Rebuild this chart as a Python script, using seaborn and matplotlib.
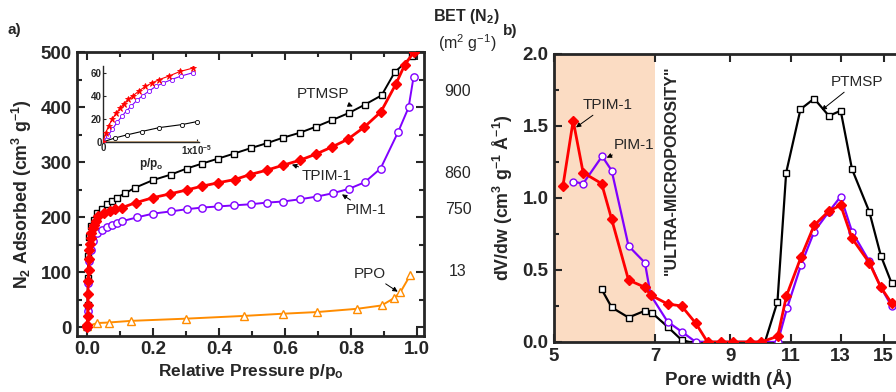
import numpy as np
import pandas as pd
import seaborn as sns
import matplotlib
matplotlib.use("Agg")
import matplotlib.pyplot as plt
from matplotlib.ticker import MultipleLocator, FixedLocator, NullLocator, NullFormatter, FixedFormatter

# ---------------- data: panel a (isotherms) ----------------
ptmsp_p = [0.0, 0.001, 0.002, 0.003, 0.006, 0.012, 0.02, 0.03, 0.045, 0.06, 0.075, 0.09, 0.115, 0.145, 0.2,
           0.254, 0.302, 0.349, 0.397, 0.445, 0.496, 0.545, 0.594, 0.645, 0.694, 0.743, 0.794,
           0.842, 0.893, 0.933, 0.985]
ptmsp_v = [0, 40, 90, 130, 165, 185, 196, 209, 216, 224, 230, 236, 244, 254, 268,
           278, 289, 298, 307, 316, 326, 335, 345, 354, 365, 377, 390,
           405, 422, 464, 493]

tpim_p = [0.0, 0.0005, 0.001, 0.0015, 0.002, 0.003, 0.004, 0.005, 0.006, 0.008, 0.010, 0.013, 0.017, 0.021,
          0.026, 0.033, 0.05, 0.07, 0.085, 0.106, 0.148, 0.2, 0.252, 0.302, 0.349, 0.397, 0.448,
          0.494, 0.545, 0.594, 0.645, 0.693, 0.742, 0.79, 0.84, 0.891, 0.936, 0.963, 0.99]
tpim_v = [0, 5, 20, 40, 60, 85, 105, 125, 140, 152, 162, 172, 180, 187,
          194, 202, 209, 212, 215, 218, 227, 236, 243, 250, 257, 263, 269,
          278, 286, 295, 304, 315, 328, 342, 364, 392, 442, 477, 500]

pim_p = [0.0, 0.001, 0.003, 0.006, 0.01, 0.018, 0.03, 0.045, 0.06, 0.075, 0.09, 0.105, 0.15, 0.2, 0.254,
         0.302, 0.349, 0.397, 0.445, 0.496, 0.545, 0.594, 0.645, 0.697, 0.745, 0.794, 0.842,
         0.89, 0.943, 0.975, 0.99]
pim_v = [0, 30, 80, 120, 140, 157, 172, 178, 182, 186, 190, 193, 200, 207, 211,
         215, 218, 220, 222, 224, 227, 229, 233, 238, 244, 252, 264,
         289, 355, 400, 455]

ppo_p = [0.0, 0.03, 0.065, 0.133, 0.3, 0.476, 0.594, 0.697, 0.82, 0.893, 0.93, 0.95, 0.98]
ppo_v = [2, 8, 9, 12, 16, 21, 25, 28, 34, 40, 53, 64, 95]

# inset (low pressure, p/po in units of 1e-6)
ins_tpim_p = [0.0, 0.3, 0.6, 1.0, 1.4, 1.8, 2.2, 2.7, 3.2, 3.8, 4.5, 5.2, 6.0, 7.0, 8.2, 9.6]
ins_tpim_v = [0, 8, 14, 20, 25, 29, 33, 37, 40, 44, 48, 51, 54, 57, 61, 64]
ins_pim_p = [0.0, 0.5, 1.0, 1.5, 2.0, 2.5, 3.0, 3.6, 4.2, 4.9, 5.6, 6.4, 7.3, 8.3, 9.6]
ins_pim_v = [0, 5, 11, 17, 22, 27, 31, 36, 40, 44, 48, 51, 54, 57, 60]
ins_ptmsp_p = [0.0, 1.3, 2.5, 4.1, 6.0, 8.4, 10.0]
ins_ptmsp_v = [0, 3.5, 6, 9, 12.4, 15, 17.6]
ins_ppo_p = [0.0, 10.2]
ins_ppo_v = [0.3, 0.3]

bet_labels = ["900", "860", "750", "13"]

# ---------------- data: panel b (pore size distribution) ----------------
b_tpim_w = [5.15, 5.33, 5.51, 5.86, 6.06, 6.41, 6.77, 6.9, 7.30, 7.65, 8.02, 8.34, 8.71, 9.09, 9.6,
            9.98, 10.54, 10.85, 11.39, 11.9, 12.5, 13.0, 13.5, 14.3, 14.86, 15.4]
b_tpim_v = [1.08, 1.537, 1.176, 1.10, 0.852, 0.43, 0.38, 0.326, 0.264, 0.25, 0.13, 0.0, 0.0, 0.0, 0.0,
            0.0, 0.04, 0.32, 0.59, 0.81, 0.91, 0.95, 0.72, 0.55, 0.38, 0.27]

b_pim_w = [5.33, 5.51, 5.87, 6.06, 6.41, 6.77, 6.9, 7.30, 7.65, 8.02, 10.54, 10.87, 11.39, 11.9,
           12.5, 13.0, 13.5, 14.3, 14.86, 15.4]
b_pim_v = [1.113, 1.10, 1.29, 1.19, 0.667, 0.55, 0.326, 0.141, 0.072, 0.0, 0.0, 0.234, 0.535, 0.766,
           0.905, 1.01, 0.766, 0.56, 0.38, 0.25]

b_ptmsp_w = [5.86, 6.06, 6.41, 6.77, 6.94, 7.30, 7.65, 7.85, 10.1, 10.53, 10.84, 11.37, 11.9, 12.5,
             13.0, 13.5, 14.3, 14.86, 15.4]
b_ptmsp_v = [0.366, 0.24, 0.17, 0.217, 0.2, 0.106, 0.014, 0.0, 0.0, 0.28, 1.176, 1.616, 1.69, 1.57,
             1.606, 1.20, 0.905, 0.6, 0.41]

b_xticks = [5, 7, 9, 11, 13, 15]

# ---------------- colours ----------------
BLACK = "#000000"
RED = "#ff0000"
PURPLE = "#8000ff"
ORANGE = "#ff8c00"
PEACH = "#fbdcc3"

sns.set_style("ticks")
plt.rcParams["font.family"] = ["Liberation Sans", "DejaVu Sans"]
plt.rcParams["mathtext.fontset"] = "custom"
plt.rcParams["mathtext.rm"] = "Liberation Sans"
plt.rcParams["mathtext.bf"] = "Liberation Sans:bold"
plt.rcParams["mathtext.it"] = "Liberation Sans:italic"
plt.rcParams["axes.linewidth"] = 2.0

fig = plt.figure(figsize=(8.96, 3.92), dpi=100)

TICK_FS = 13.5
LABEL_FS = 12.8

# ======== panel a ========
axa = fig.add_axes([0.0863, 0.1436, 0.387, 0.7226])

def line(ax, x, y, color, marker, mfc, ms, lw=1.4, mew=1.0, zorder=2, **kw):
    df = pd.DataFrame({"x": x, "y": y})
    sns.lineplot(data=df, x="x", y="y", ax=ax, color=color, marker=marker, markersize=ms,
                 markerfacecolor=mfc, markeredgecolor=color, markeredgewidth=mew,
                 linewidth=lw, estimator=None, sort=False, zorder=zorder, legend=False, **kw)

line(axa, ppo_p, ppo_v, ORANGE, "^", "white", 5.5, zorder=2)
line(axa, ptmsp_p, ptmsp_v, BLACK, "s", "white", 4.8, zorder=3)
line(axa, pim_p, pim_v, PURPLE, "o", "white", 5.3, zorder=4)
line(axa, tpim_p, tpim_v, RED, "D", RED, 5.2, lw=2.0, zorder=5)

axa.set_xlim(-0.03, 1.022)
axa.set_ylim(-15, 500)
axa.xaxis.set_major_locator(MultipleLocator(0.2))
axa.xaxis.set_minor_locator(MultipleLocator(0.1))
axa.yaxis.set_major_locator(MultipleLocator(100))
axa.yaxis.set_minor_locator(MultipleLocator(50))
axa.xaxis.set_major_formatter(matplotlib.ticker.FormatStrFormatter("%.1f"))
axa.tick_params(which="both", direction="in", top=True, right=True, width=1.5)
axa.tick_params(which="major", length=6, labelsize=TICK_FS, pad=4)
axa.tick_params(which="minor", length=3.5)
for lab in axa.get_xticklabels() + axa.get_yticklabels():
    lab.set_fontweight("bold")
axa.set_xlabel(r"Relative Pressure p/p$\mathbf{_o}$", fontsize=12.5, fontweight="bold", labelpad=3)
axa.set_ylabel(r"N$\mathbf{_2}$ Adsorbed (cm$\mathbf{^3}$ g$\mathbf{^{-1}}$)", fontsize=LABEL_FS,
               fontweight="bold", labelpad=5)

arrow = dict(arrowstyle="-|>", color="black", lw=0.7, mutation_scale=7, shrinkA=0, shrinkB=0)
axa.annotate("PTMSP", xy=(0.806, 402), xytext=(0.715, 424), fontsize=11, ha="center", va="center",
             arrowprops=arrow, zorder=6)
axa.annotate("TPIM-1", xy=(0.621, 296), xytext=(0.727, 275), fontsize=11, ha="center", va="center",
             arrowprops=arrow, zorder=6)
axa.annotate("PIM-1", xy=(0.773, 242), xytext=(0.845, 213), fontsize=11, ha="center", va="center",
             arrowprops=arrow, zorder=6)
axa.annotate("PPO", xy=(0.942, 65), xytext=(0.858, 98), fontsize=11, ha="center", va="center",
             arrowprops=arrow, zorder=6)

# inset
axi = fig.add_axes([0.115, 0.638, 0.107, 0.193])
axi.patch.set_alpha(0)
line(axi, ins_ppo_p, ins_ppo_v, "#c8a070", None, "none", 0, lw=1.2, zorder=2)
line(axi, ins_ptmsp_p, ins_ptmsp_v, BLACK, "o", "white", 3, lw=0.8, mew=0.6, zorder=3)
line(axi, ins_pim_p, ins_pim_v, PURPLE, "o", "white", 3, lw=0.8, mew=0.6, zorder=4)
line(axi, ins_tpim_p, ins_tpim_v, RED, "*", RED, 4.5, lw=0.8, mew=0.6, zorder=5)
axi.set_xlim(0, 10.2)
axi.set_ylim(0, 65.5)
for s in ["top", "right"]:
    axi.spines[s].set_visible(False)
for s in ["left", "bottom"]:
    axi.spines[s].set_linewidth(1.0)
axi.xaxis.set_major_locator(FixedLocator([0, 10]))
axi.xaxis.set_major_formatter(FixedFormatter(["0", r"1x10$\mathbf{^{-5}}$"]))
axi.yaxis.set_major_locator(FixedLocator([0, 20, 40, 60]))
axi.tick_params(which="both", direction="in", length=2, width=0.8, labelsize=7, pad=1)
for lab in axi.get_xticklabels() + axi.get_yticklabels():
    lab.set_fontweight("bold")
axi.set_xlabel(r"p/p$\mathbf{_o}$", fontsize=8.5, fontweight="bold", labelpad=-1)
axi.set_ylabel("")

# BET column and panel letters
fig.text(8 / 896, 1 - 30 / 392, "a)", fontsize=11, fontweight="bold", ha="left", va="center")
fig.text(503 / 896, 1 - 31 / 392, "b)", fontsize=11, fontweight="bold", ha="left", va="center")
fig.text(466 / 896, 1 - 17 / 392, r"BET (N$\mathbf{_2}$)", fontsize=11.5, fontweight="bold",
         ha="center", va="center")
fig.text(467 / 896, 1 - 43 / 392, r"(m$^2$ g$^{-1}$)", fontsize=11.5, ha="center", va="center")
for lab, yp in zip(bet_labels, [92, 174, 210, 272]):
    fig.text(458 / 896, 1 - yp / 392, lab, fontsize=11.5, ha="center", va="center")

# ======== panel b ========
axb = fig.add_axes([0.6183, 0.1276, 0.3895, 0.7347])
axb.axvspan(5, 7, color=PEACH, lw=0, zorder=0)
line(axb, b_ptmsp_w, b_ptmsp_v, BLACK, "s", "white", 4.5, lw=1.6, zorder=3,
     markevery=[0, 1, 2, 3, 4, 5, 6, 9, 10, 11, 12, 13, 14, 15, 16, 17, 18])
line(axb, b_pim_w, b_pim_v, PURPLE, "o", "white", 5, lw=1.6, zorder=4)
line(axb, b_tpim_w, b_tpim_v, RED, "D", RED, 4.8, lw=2.0, zorder=5)

axb.set_xscale("log")
axb.set_xlim(5, 16)
axb.set_ylim(0, 2.0)
axb.xaxis.set_major_locator(FixedLocator(b_xticks))
axb.xaxis.set_major_formatter(FixedFormatter([str(t) for t in b_xticks]))
axb.xaxis.set_minor_locator(NullLocator())
axb.xaxis.set_minor_formatter(NullFormatter())
axb.yaxis.set_major_locator(MultipleLocator(0.5))
axb.yaxis.set_minor_locator(MultipleLocator(0.25))
axb.yaxis.set_major_formatter(matplotlib.ticker.FormatStrFormatter("%.1f"))
axb.tick_params(which="both", direction="in", top=True, right=False, width=1.5)
axb.tick_params(which="major", length=6, labelsize=TICK_FS, pad=4)
axb.tick_params(which="minor", length=3.5)
for lab in axb.get_xticklabels() + axb.get_yticklabels():
    lab.set_fontweight("bold")
axb.set_xlabel("Pore width (Å)", fontsize=13.5, fontweight="bold", labelpad=3)
axb.set_ylabel(r"dV/dw (cm$\mathbf{^3}$ g$\mathbf{^{-1}}$ Å$\mathbf{^{-1}}$)", fontsize=LABEL_FS,
               fontweight="bold", labelpad=5)

axb.text(7.40, 1.19, '"ULTRA-MICROPOROSITY"', rotation=90, fontsize=11.5, fontweight="bold",
         ha="center", va="center", zorder=6)
axb.annotate("TPIM-1", xy=(5.38, 1.49), xytext=(5.97, 1.646), fontsize=11, ha="center", va="center",
             arrowprops=arrow, zorder=6)
axb.annotate("PIM-1", xy=(5.96, 1.28), xytext=(6.53, 1.37), fontsize=11, ha="center", va="center",
             arrowprops=arrow, zorder=6)
axb.annotate("PTMSP", xy=(12.2, 1.61), xytext=(13.73, 1.806), fontsize=11, ha="center", va="center",
             arrowprops=arrow, zorder=6)

fig.savefig("out.png", dpi=100)
